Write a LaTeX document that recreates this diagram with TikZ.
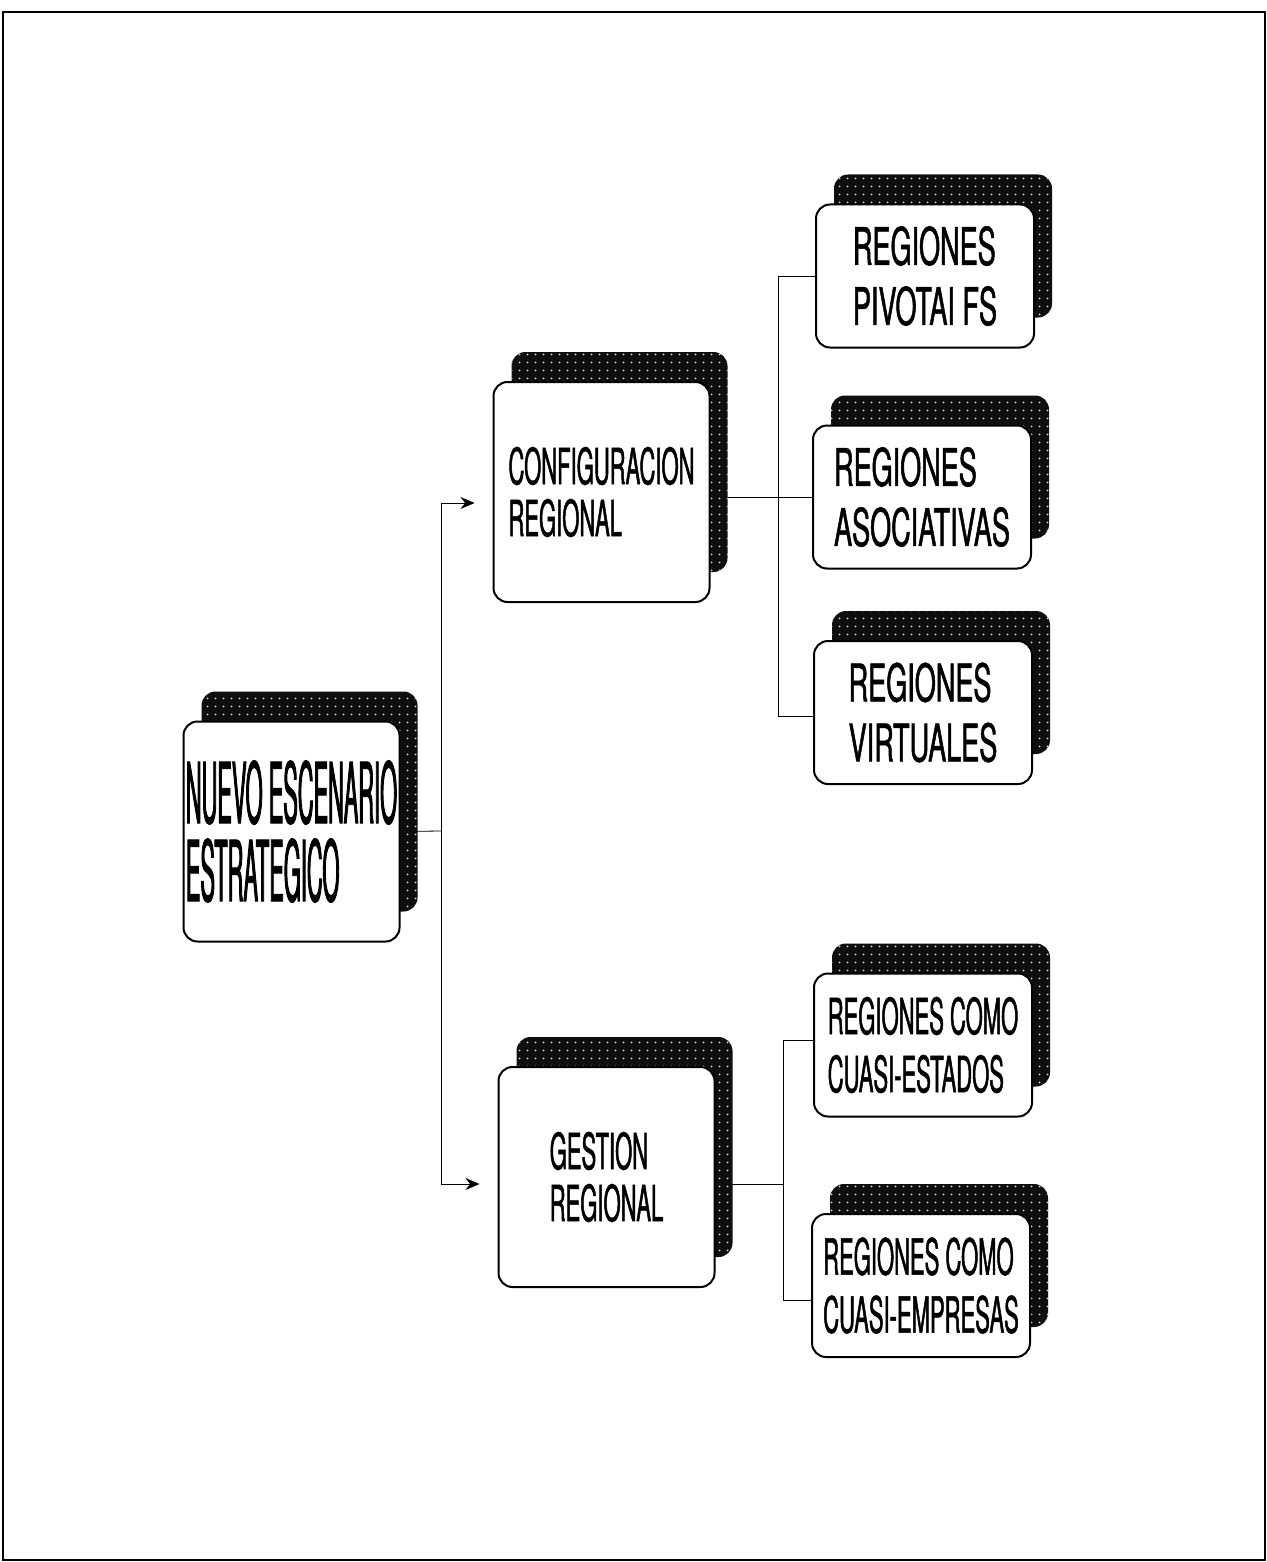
\documentclass[tikz,border=0pt]{standalone}
\usepackage{fontspec}
\newfontfamily\tallfont[FakeStretch=0.26,FakeBold=1]{TeX Gyre Heros}
\newfontfamily\regfont[FakeStretch=0.52,FakeBold=1]{TeX Gyre Heros}
\newfontfamily\cuasifont[FakeStretch=0.44,FakeBold=1]{TeX Gyre Heros}
\usetikzlibrary{arrows.meta,shadows,patterns.meta,backgrounds}
\definecolor{shadow_black}{RGB}{15,15,15}
\definecolor{dot_white}{RGB}{225,225,225}

\begin{document}
\begin{tikzpicture}[x=0.5pt,y=-0.5pt,>={Stealth[length=7pt,width=6pt]},line width=1.3pt]
    \tikzstyle{block}=[draw=black, fill=white, rounded corners=7pt, line width=1pt, inner sep=0pt, align=left,
        general shadow={fill=shadow_black, shadow xshift=9pt, shadow yshift=15pt},
        general shadow={pattern={Dots[distance=4pt,radius=0.55pt]}, pattern color=dot_white, shadow xshift=9pt, shadow yshift=15pt}]
    \tikzstyle{blockbig}=[style=block, minimum width=108pt, minimum height=110pt]
    \tikzstyle{blocksmall}=[style=block, minimum width=109pt, minimum height=71.5pt]
    \tikzstyle{tallname}=[font=\tallfont\fontsize{42}{39}\selectfont]
    \tikzstyle{regname}=[font=\regfont\fontsize{26}{30}\selectfont]
    \tikzstyle{cuasiname}=[font=\cuasifont\fontsize{25}{29}\selectfont]
    \tikzstyle{midname}=[font=\cuasifont\fontsize{25}{26}\selectfont]

    \useasboundingbox (0,0) rectangle (1267,1562);
    \draw[line width=1.4pt] (3,12) rectangle (1265,1560);

    \node[blockbig,tallname] (nuevo) at (291.5,831.5) {NUEVO ESCENARIO\\ESTRATEGICO};
    \node[blockbig,midname] (config) at (601.5,492) {CONFIGURACION\\REGIONAL};
    \node[blockbig,midname] (gestion) at (606.5,1177) {GESTION\\REGIONAL};
    \node[blocksmall,regname] (pivot) at (925,276) {REGIONES\\PIVOTAI FS};
    \node[blocksmall,regname] (asoc) at (922,497) {REGIONES\\ASOCIATIVAS};
    \node[blocksmall,regname] (virt) at (923,712.5) {REGIONES\\VIRTUALES};
    \node[blocksmall,cuasiname] (estados) at (923,1045) {REGIONES COMO\\CUASI-ESTADOS};
    \node[blocksmall,cuasiname] (empresas) at (921,1285.5) {REGIONES COMO\\CUASI-EMPRESAS};

    \coordinate (trunk) at (441,831);
    \coordinate (cfgsplit) at (778,497);
    \coordinate (gessplit) at (783,1184);

    \begin{scope}[on background layer]
    \draw (nuevo.east) -- (trunk);
    \draw[->] (trunk) |- ([shift={(-18,11)}]config.west);
    \draw[->] (trunk) |- ([shift={(-18,7)}]gestion.west);
    \draw ([shift={(0,5)}]config.east) -- (asoc.west);
    \draw (pivot.west) -| (cfgsplit) |- ([shift={(0,4)}]virt.west);
    \draw ([shift={(0,7)}]gestion.east) -- (gessplit);
    \draw ([shift={(0,-5)}]estados.west) -| (gessplit) |- ([shift={(0,15)}]empresas.west);
    \end{scope}
\end{tikzpicture}
\end{document}
